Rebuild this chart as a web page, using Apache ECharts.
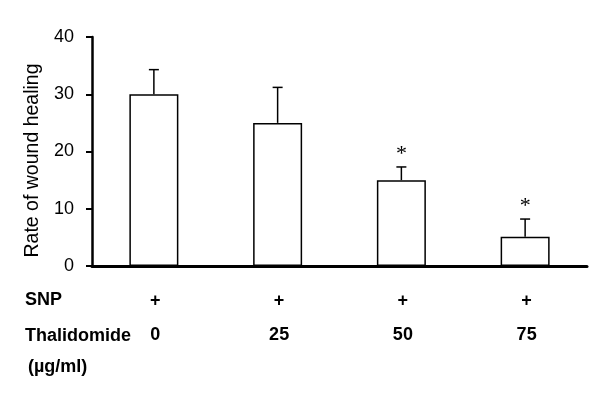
<!DOCTYPE html>
<html>
<head>
<meta charset="utf-8">
<script src="https://cdn.jsdelivr.net/npm/echarts@6/dist/echarts.min.js"></script>
<style>
  html, body { margin: 0; padding: 0; background: #fff; }
  #chart { width: 600px; height: 405px; }
</style>
</head>
<body>
<div id="chart"></div>
<script>
// values
var snp = ['+', '+', '+', '+'];
var doses = ['0', '25', '50', '75'];
var means = [30, 25, 15, 5.1];
var errors = [4.3, 6.2, 2.3, 3.1];
var significant = [false, false, true, true];

var FONT = '"Liberation Sans", Arial, sans-serif';

var chart = echarts.init(document.getElementById('chart'));

var errData = [];
for (var i = 0; i < doses.length; i++) {
	errData.push([i, means[i], means[i] + errors[i], significant[i] ? 1 : 0]);
}

var option = {
	animation: false,
	backgroundColor: '#fff',
	grid: { left: 92, right: 13, top: 37, bottom: 139 },
	xAxis: {
		type: 'category',
		data: doses,
		axisLine: { lineStyle: { color: '#000', width: 3 } },
		axisTick: { show: false },
		axisLabel: {
			margin: 18,
			interval: 0,
			formatter: function(v, idx) {
				return '{a|' + snp[idx] + '}\n{b|' + v + '}';
			},
			rich: {
				a: { fontFamily: FONT, fontWeight: 'bold', fontSize: 18, color: '#000', lineHeight: 34, padding: [0, 0, 0, 3] },
				b: { fontFamily: FONT, fontWeight: 'bold', fontSize: 18, color: '#000', lineHeight: 34, padding: [0, 0, 0, 3] }
			}
		}
	},
	yAxis: {
		type: 'value',
		min: 0,
		max: 40,
		interval: 10,
		name: 'Rate of wound healing',
		nameLocation: 'middle',
		nameGap: 45,
		nameTextStyle: { fontFamily: FONT, fontSize: 19.5, color: '#000', padding: [0, 18, 0, 0] },
		axisLine: { show: true, lineStyle: { color: '#000', width: 2.5 } },
		axisTick: { show: true, length: 6, lineStyle: { color: '#000', width: 2 } },
		axisLabel: { fontFamily: FONT, fontSize: 18, color: '#000', margin: 18 },
		splitLine: { show: false }
	},
	series: [
		{
			type: 'bar',
			data: means,
			barWidth: 49,
			itemStyle: { color: '#fff', borderColor: '#000', borderWidth: 1.5 }
		},
		{
			type: 'custom',
			data: errData,
			z: 5,
			renderItem: function(params, api) {
				var x = api.value(0);
				var base = api.coord([x, api.value(1)]);
				var top = api.coord([x, api.value(2)]);
				var children = [
					{ type: 'line', shape: { x1: base[0], y1: base[1], x2: top[0], y2: top[1] },
					  style: { stroke: '#000', lineWidth: 1.5 } },
					{ type: 'line', shape: { x1: top[0] - 5, y1: top[1], x2: top[0] + 5, y2: top[1] },
					  style: { stroke: '#000', lineWidth: 1.5 } }
				];
				if (api.value(3)) {
					children.push({
						type: 'text',
						x: top[0],
						y: top[1] - 13,
						style: { text: '*', fontFamily: '"Liberation Serif", serif', fontSize: 22,
							fill: '#000', align: 'center', verticalAlign: 'middle' }
					});
				}
				return { type: 'group', children: children };
			}
		}
	],
	graphic: [
		{ type: 'text', left: 25, top: 291, style: { text: 'SNP', font: 'bold 18px ' + FONT, fill: '#000' } },
		{ type: 'text', left: 25, top: 327, style: { text: 'Thalidomide', font: 'bold 18px ' + FONT, fill: '#000' } },
		{ type: 'text', left: 28, top: 358, style: { text: '(µg/ml)', font: 'bold 18px ' + FONT, fill: '#000' } }
	]
};

chart.setOption(option);
</script>
</body>
</html>
